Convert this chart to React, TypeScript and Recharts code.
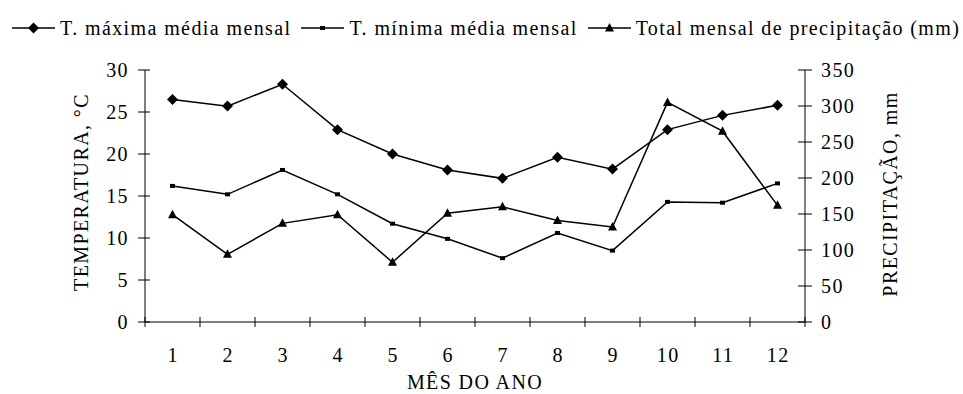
import React from "react";
import { LineChart, Line, XAxis, YAxis, Legend } from "recharts";

const months = [1, 2, 3, 4, 5, 6, 7, 8, 9, 10, 11, 12];
const tMax = [26.5, 25.7, 28.3, 22.9, 20.0, 18.1, 17.1, 19.6, 18.2, 22.9, 24.6, 25.8];
const tMin = [16.2, 15.2, 18.1, 15.2, 11.7, 9.9, 7.6, 10.6, 8.5, 14.3, 14.2, 16.5];
const precip = [149, 94, 137, 149, 83, 151, 160, 141, 132, 305, 265, 162];

const tempTicks = [0, 5, 10, 15, 20, 25, 30];
const precTicks = [0, 50, 100, 150, 200, 250, 300, 350];

const seriesNames = {
  tMax: "T. máxima média mensal",
  tMin: "T. mínima média mensal",
  precip: "Total mensal de precipitação (mm)",
};

const data = months.map((m, i) => ({
  month: m,
  tMax: tMax[i],
  tMin: tMin[i],
  precip: precip[i],
}));

const FONT = "'Liberation Serif', 'Times New Roman', serif";
const FS = 20;
const LS = 1.4;
const HALF_BAND = 27.5;

const Diamond = (props: any) => {
  const { cx, cy } = props;
  if (cx == null || cy == null) return null;
  const r = 5.5;
  return (
    <polygon
      points={`${cx},${cy - r} ${cx + r},${cy} ${cx},${cy + r} ${cx - r},${cy}`}
      fill="#000"
    />
  );
};

const SmallSquare = (props: any) => {
  const { cx, cy } = props;
  if (cx == null || cy == null) return null;
  return <rect x={cx - 2.5} y={cy - 2} width={5} height={4} fill="#000" />;
};

const Triangle = (props: any) => {
  const { cx, cy } = props;
  if (cx == null || cy == null) return null;
  return (
    <polygon
      points={`${cx},${cy - 5} ${cx + 4.5},${cy + 3.5} ${cx - 4.5},${cy + 3.5}`}
      fill="#000"
    />
  );
};

const markerFor: Record<string, (p: any) => any> = {
  tMax: Diamond,
  tMin: SmallSquare,
  precip: Triangle,
};

const txt = { fontFamily: FONT, fontSize: FS, fill: "#000", letterSpacing: LS };

const LeftTick = (props: any) => {
  const { x, y, payload } = props;
  return (
    <g>
      <line x1={x - 7} x2={x + 5} y1={y} y2={y} stroke="#000" strokeWidth={1} />
      <text x={x - 16} y={y + 6.5} textAnchor="end" style={txt}>
        {payload.value}
      </text>
    </g>
  );
};

const RightTick = (props: any) => {
  const { x, y, payload } = props;
  return (
    <g>
      <line x1={x - 7} x2={x + 7} y1={y} y2={y} stroke="#000" strokeWidth={1} />
      <text x={x + 16} y={y + 6.5} textAnchor="start" style={txt}>
        {payload.value}
      </text>
    </g>
  );
};

const BottomTick = (props: any) => {
  const { x, y, payload, index } = props;
  return (
    <g>
      {index === 0 && (
        <line x1={x - HALF_BAND} x2={x - HALF_BAND} y1={y - 5} y2={y + 5} stroke="#000" strokeWidth={1} />
      )}
      <line x1={x + HALF_BAND} x2={x + HALF_BAND} y1={y - 5} y2={y + 5} stroke="#000" strokeWidth={1} />
      <text x={x + LS / 2} y={y + 40} textAnchor="middle" style={txt}>
        {payload.value}
      </text>
    </g>
  );
};

const VerticalTitle = (dx: number, text: string, dyShift: number) => (props: any) => {
  const vb = props.viewBox || {};
  const cx = vb.x + dx;
  const cy = vb.y + vb.height / 2 + dyShift;
  return (
    <text
      transform={`translate(${cx},${cy}) rotate(-90)`}
      textAnchor="middle"
      dominantBaseline="central"
      style={txt}
    >
      {text}
    </text>
  );
};

const BottomTitle = (props: any) => {
  const vb = props.viewBox || {};
  return (
    <text x={vb.x + vb.width / 2} y={vb.y + 67} textAnchor="middle" style={txt}>
      MÊS DO ANO
    </text>
  );
};

const LegendContent = (props: any) => {
  const { payload } = props;
  return (
    <div
      style={{
        display: "flex",
        alignItems: "center",
        fontFamily: FONT,
        fontSize: FS,
        letterSpacing: LS,
        color: "#000",
        whiteSpace: "nowrap",
        lineHeight: "22px",
      }}
    >
      {(payload || []).map((p: any, i: number) => {
        const M = markerFor[p.dataKey];
        return (
          <div key={i} style={{ display: "flex", alignItems: "center", marginRight: 10 }}>
            <svg width={43} height={14} style={{ marginRight: 5 }}>
              <line x1={0} x2={43} y1={7} y2={7} stroke="#000" strokeWidth={1.5} />
              <M cx={21.5} cy={7} />
            </svg>
            <span>{p.value}</span>
          </div>
        );
      })}
    </div>
  );
};

export default function App() {
  return (
    <div style={{ position: "absolute", left: 0, top: 0, width: 963, height: 394, background: "#fff" }}>
      <LineChart
        width={963}
        height={394}
        data={data}
        margin={{ top: 70, right: 73, bottom: 12, left: 60 }}
      >
        <XAxis
          dataKey="month"
          type="category"
          padding={{ left: HALF_BAND, right: HALF_BAND }}
          height={60}
          axisLine={{ stroke: "#000", strokeWidth: 1 }}
          tickLine={false}
          tickSize={0}
          tickMargin={0}
          tick={<BottomTick />}
          interval={0}
          label={<BottomTitle />}
        />
        <YAxis
          yAxisId="t"
          orientation="left"
          width={85}
          domain={[0, 30]}
          ticks={tempTicks}
          interval={0}
          axisLine={{ stroke: "#000", strokeWidth: 1 }}
          tickLine={false}
          tickSize={0}
          tickMargin={0}
          tick={<LeftTick />}
          label={VerticalTitle(21, "TEMPERATURA, °C", -4)}
        />
        <YAxis
          yAxisId="p"
          orientation="right"
          width={85}
          domain={[0, 350]}
          ticks={precTicks}
          interval={0}
          axisLine={{ stroke: "#000", strokeWidth: 1 }}
          tickLine={false}
          tickSize={0}
          tickMargin={0}
          tick={<RightTick />}
          label={VerticalTitle(85, "PRECIPITAÇÃO, mm", -2)}
        />
        <Legend
          layout="horizontal"
          verticalAlign="middle"
          align="center"
          wrapperStyle={{ top: 17, left: 12, width: "auto" }}
          content={<LegendContent />}
        />
        <Line
          yAxisId="t"
          dataKey="tMax"
          name={seriesNames.tMax}
          stroke="#000"
          strokeWidth={1.5}
          dot={<Diamond />}
          activeDot={false}
          isAnimationActive={false}
        />
        <Line
          yAxisId="t"
          dataKey="tMin"
          name={seriesNames.tMin}
          stroke="#000"
          strokeWidth={1.5}
          dot={<SmallSquare />}
          activeDot={false}
          isAnimationActive={false}
        />
        <Line
          yAxisId="p"
          dataKey="precip"
          name={seriesNames.precip}
          stroke="#000"
          strokeWidth={1.5}
          dot={<Triangle />}
          activeDot={false}
          isAnimationActive={false}
        />
      </LineChart>
    </div>
  );
}
